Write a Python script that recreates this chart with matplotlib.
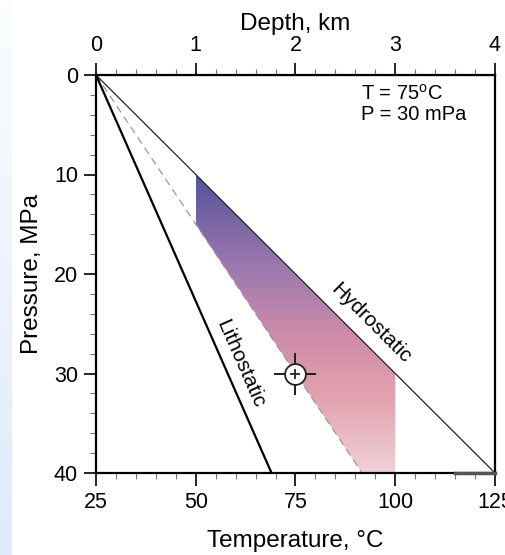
import numpy as np
import matplotlib
matplotlib.use("Agg")
import matplotlib.pyplot as plt
from matplotlib.colors import LinearSegmentedColormap
from matplotlib.patches import Polygon

plt.rcParams['font.family'] = ['Liberation Sans', 'DejaVu Sans']

# data
hydro_T = [25, 125]
hydro_P = [0, 40]
litho_T = [25, 69]
litho_P = [0, 40]
dash_T = [25, 91.7]
dash_P = [0, 40]
band_T = [50, 100, 100, 91.7, 50]
band_P = [10, 30, 40, 40, 15]
point_T = 75
point_P = 30
edge_T = [115, 125]
edge_P = [40, 40]

temp_ticks = [25, 50, 75, 100, 125]
press_ticks = [0, 10, 20, 30, 40]
depth_ticks = [0, 1, 2, 3, 4]

fig = plt.figure(figsize=(5.06, 5.55), dpi=100)

# pale blue strip on the left edge
bg = fig.add_axes([0, 0, 12 / 506, 1])
bg.imshow(np.linspace(0, 1, 100).reshape(-1, 1), aspect='auto',
          cmap=LinearSegmentedColormap.from_list('bg', ['#fbfdff', '#dfeafb']),
          extent=[0, 1, 0, 1])
bg.axis('off')

ax = fig.add_axes([96 / 506, 1 - 473 / 555, 399 / 506, 398 / 555])
ax.set_xlim(25, 125)
ax.set_ylim(40, 0)

# gradient band
cmap = LinearSegmentedColormap.from_list(
    'band', [(0.0, '#55529a'), (0.3, '#9a78ae'), (0.55, '#cf8ca8'),
             (0.75, '#e3a3b0'), (1.0, '#f0d0d6')])
img = ax.imshow(np.linspace(0, 1, 200).reshape(-1, 1), cmap=cmap, aspect='auto',
                extent=[50, 100, 40, 10], zorder=1)
poly = Polygon(list(zip(band_T, band_P)), closed=True, facecolor='none', edgecolor='none')
ax.add_patch(poly)
img.set_clip_path(poly)

ax.plot(dash_T, dash_P, color='#999999', lw=0.9, ls=(0, (6, 4)), zorder=2)
ax.plot(hydro_T, hydro_P, color='#222222', lw=0.9, zorder=3)
ax.plot(litho_T, litho_P, color='black', lw=1.6, zorder=3)
ax.plot(edge_T, edge_P, color='#555555', lw=2.5, zorder=3, clip_on=False)

# target marker
ax.plot(point_T, point_P, marker=(4, 2, 0), ms=30, mec='#222222', mew=1.3, zorder=3)
ax.plot(point_T, point_P, 'o', ms=15, mfc='white', mec='#222222', mew=1.3, zorder=4)
ax.plot(point_T, point_P, '+', ms=7, mec='#222222', mew=1.3, zorder=5)

ax.text(91.3, 0.9, 'T = 75$^{\\mathregular{o}}$C\nP = 30 mPa', fontsize=14.5,
        va='top', ha='left', linespacing=1.1)
ax.text(93.8, 24.9, 'Hydrostatic', fontsize=15, rotation=-45,
        rotation_mode='anchor', ha='center', va='center')
ax.text(61.2, 29.0, 'Lithostatic', fontsize=15, rotation=-66.2,
        rotation_mode='anchor', ha='center', va='center')

ax.set_xticks(temp_ticks)
ax.set_xticks(np.arange(25, 126, 5), minor=True)
ax.set_yticks(press_ticks)
ax.set_yticks(np.arange(0, 41, 2), minor=True)
ax.tick_params(which='major', direction='out', length=9, width=1.2, labelsize=15.5)
ax.tick_params(which='minor', direction='out', length=4, width=0.8, color='#777777')
ax.tick_params(axis='x', which='major', pad=5)
ax.tick_params(axis='y', which='major', pad=4)
for s in ax.spines.values():
    s.set_linewidth(1.6)

ax.set_xlabel('Temperature, °C', fontsize=17.5, labelpad=12)
ax.set_ylabel('Pressure, MPa', fontsize=17.5, labelpad=8)

top = ax.secondary_xaxis('top', functions=(lambda t: (t - 25) / 25, lambda d: d * 25 + 25))
top.set_xticks(depth_ticks)
top.set_xticks(np.arange(0, 4.01, 0.2), minor=True)
top.tick_params(which='major', direction='out', length=9, width=1.2, labelsize=15.5, pad=5)
top.tick_params(which='minor', direction='out', length=4, width=0.8, color='#777777')
top.set_xlabel('Depth, km', fontsize=17.5, labelpad=3)

fig.savefig('out.png', dpi=100)
